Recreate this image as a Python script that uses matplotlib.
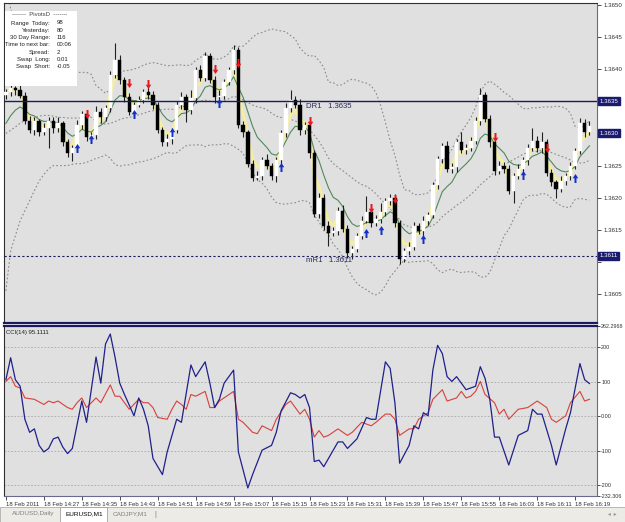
import matplotlib
matplotlib.use("Agg")
import matplotlib.pyplot as plt
import matplotlib.transforms as mtransforms
from matplotlib.path import Path
from matplotlib.patches import Rectangle
import numpy as np
import pandas as pd

# ---- data (prices in pips above base) ----
base = 1.3600
first_open = 36.0
closes = [36.4, 37.0, 36.7, 35.9, 32.0, 30.5, 31.9, 30.2, 30.8, 32.0,
          30.8, 31.6, 28.6, 26.9, 27.7, 31.3, 33.1, 29.4, 29.7, 33.3,
          32.5, 33.9, 39.1, 41.4, 38.3, 35.6, 33.3, 34.5, 35.2, 36.4,
          36.0, 34.5, 30.5, 28.6, 29.2, 30.5, 34.4, 35.6, 33.6, 35.5,
          39.8, 38.7, 42.0, 38.3, 35.6, 35.9, 38.0, 39.8, 43.0, 31.3,
          30.2, 25.3, 23.1, 23.4, 25.8, 25.0, 23.3, 25.8, 30.0, 33.9,
          35.2, 34.4, 30.5, 31.3, 27.0, 17.5, 20.0, 15.6, 14.5, 14.8,
          18.0, 15.2, 11.4, 12.0, 14.1, 16.4, 17.7, 16.1, 16.7, 17.7,
          19.5, 19.9, 16.1, 10.5, 11.7, 12.3, 15.6, 14.8, 16.4, 17.3,
          21.9, 26.1, 28.0, 24.5, 24.8, 28.6, 27.4, 27.7, 28.9, 31.9,
          36.0, 32.3, 28.6, 24.2, 25.0, 24.5, 21.1, 23.4, 24.5, 25.8,
          27.8, 28.9, 27.7, 28.6, 23.9, 22.4, 21.4, 22.6, 23.4, 25.0,
          27.3, 31.6, 30.2, 31.1]
hi_wick = [0.5, 0.6, 0.4, 0.8, 0.5, 0.7, 0.6, 0.4, 0.9, 0.6,
           0.5, 1.0, 0.4, 0.6, 0.5, 0.8, 0.4, 0.6, 0.5, 0.9,
           0.7, 0.5, 0.6, 2.7, 0.8, 0.5, 0.7, 0.4, 0.6, 0.5,
           0.8, 0.6, 0.4, 0.5, 0.7, 0.4, 0.6, 0.9, 0.5, 1.2,
           0.6, 0.8, 0.7, 0.5, 0.6, 0.9, 0.4, 0.5, 0.7, 0.5,
           0.6, 0.4, 0.5, 0.7, 0.5, 1.0, 0.4, 0.6, 0.5, 0.8,
           1.5, 0.6, 0.9, 0.5, 0.6, 0.4, 0.7, 0.5, 0.8, 0.6,
           0.5, 0.9, 0.6, 0.5, 0.4, 0.7, 2.6, 0.5, 0.6, 1.4,
           0.5, 0.7, 0.6, 0.4, 0.5, 0.8, 0.6, 0.5, 0.7, 0.5,
           0.6, 0.4, 0.5, 0.8, 0.6, 0.5, 1.6, 0.6, 0.5, 0.7,
           1.0, 0.5, 0.6, 0.4, 0.7, 0.5, 0.6, 0.5, 0.8, 0.6,
           0.5, 2.0, 0.7, 1.6, 0.5, 0.6, 0.4, 0.7, 0.5, 0.6,
           0.5, 0.8, 0.6, 0.9]
lo_wick = [0.6, 0.5, 0.7, 0.4, 0.6, 0.5, 0.8, 0.6, 0.5, 3.0,
           0.7, 0.5, 0.6, 0.5, 1.2, 0.4, 0.6, 0.5, 0.7, 0.5,
           0.8, 0.6, 0.5, 0.4, 0.6, 0.7, 0.5, 0.6, 0.4, 0.5,
           0.6, 0.7, 0.5, 0.6, 0.5, 0.8, 0.4, 0.6, 1.8, 0.5,
           0.7, 0.5, 0.6, 0.5, 0.8, 0.6, 0.5, 0.4, 0.6, 0.5,
           0.7, 0.6, 0.5, 0.4, 0.7, 0.6, 0.5, 0.8, 0.6, 0.5,
           0.6, 0.5, 0.7, 0.6, 0.8, 0.5, 0.6, 0.7, 2.0, 0.5,
           0.6, 0.5, 0.8, 0.9, 0.5, 0.6, 0.4, 0.7, 0.5, 0.6,
           0.5, 0.6, 0.7, 0.8, 0.5, 0.6, 0.4, 0.5, 0.7, 0.6,
           0.5, 0.6, 0.7, 0.5, 0.6, 0.8, 0.5, 0.6, 0.4, 0.5,
           0.6, 0.5, 0.7, 0.6, 0.5, 0.7, 0.6, 2.0, 0.5, 0.6,
           0.7, 0.5, 0.6, 0.8, 0.5, 0.6, 1.4, 0.5, 0.6, 0.7,
           0.6, 0.5, 0.8, 0.5]

# bollinger values before 20 bars of history are on screen
bb_head_mid = [30.0, 30.5, 31.0, 31.6, 32.0, 32.2, 32.4, 32.7, 32.8, 32.8,
               32.7, 32.5, 32.5, 32.4, 32.4, 32.4, 32.4, 32.5, 32.5]
bb_head_low = [5.5, 11.7, 14.1, 16.4, 18.0, 19.5, 21.1, 22.6, 23.6, 24.5,
               25.0, 25.0, 25.0, 25.0, 25.2, 25.3, 25.3, 25.5, 25.8]
green_seed = 30.2

sell_bars = [17, 26, 30, 44, 49, 64, 77, 82, 103, 114]
sell_pips = [33.1, 37.8, 37.7, 40.0, 41.0, 32.0, 18.4, 19.8, 29.5, 27.8]
buy_bars = [15, 18, 27, 35, 45, 58, 76, 79, 88, 109, 120]
buy_pips = [27.7, 29.1, 33.1, 30.3, 34.7, 24.8, 14.5, 15.0, 13.6, 23.6, 23.0]

cci_bars = [0, 1, 2, 3, 4, 5, 6, 7, 8, 9, 10, 11, 12, 13, 14,
            16, 17, 19, 20, 21, 22, 23, 24, 25, 27, 28, 29, 30, 31,
            33, 34, 36, 37, 39, 40, 42, 43, 44, 45, 46, 48, 49, 51, 52,
            54, 56, 57, 58, 60, 61, 62, 63, 64, 65, 66, 67, 68,
            70, 71, 72, 74, 76, 77, 78, 80, 81, 82, 83,
            85, 86, 87, 88, 89, 90, 91, 92, 93, 94, 95, 96, 97,
            99, 100, 101, 102, 103, 104, 106, 108, 110, 111, 112, 113,
            115, 116, 118, 119, 121, 122, 123]
cci_vals = [106, 170, 106, 87, -9, -47, -37, -85, -104, -94, -66, -61, -90, -109, -94,
            44, -18, 172, 96, 210, 239, 172, 96, 63, 1, 53, 20, -28, -123,
            -170, -104, -9, -18, 149, 115, 158, 96, 25, 49, 96, 134, -104, -209, -170,
            -99, -85, -47, 15, 68, 63, 53, 63, 25, -132, -128, -147, -123,
            -75, -75, -94, -66, -4, -9, -9, 158, 139, 39, -137,
            -85, -28, -37, 10, 1, 134, 206, 182, 115, 101, 115, 96, 77,
            87, 144, 110, 49, -61, -61, -142, -56, -42, 20, 6, 6,
            -85, -142, -37, 10, 153, 106, 95]
sig_bars = [0, 1, 2, 3, 4, 6, 8, 9, 10, 11, 13, 14, 15, 16, 17, 19, 20, 22, 23, 24,
            26, 28, 29, 30, 31, 32, 34, 35, 36, 37, 38, 39, 40, 42, 43, 44, 45, 48, 49, 50,
            52, 53, 54, 56, 57, 59, 60, 62, 63, 64, 65, 66, 67, 68, 70, 72, 73, 75, 77, 78,
            80, 81, 82, 83, 85, 86, 87, 89, 90, 92, 93, 95, 96, 97, 98, 99, 100, 101, 103, 104,
            105, 106, 108, 110, 112, 114, 115, 116, 118, 119, 121, 122, 123]
sig_vals = [101, 115, 87, 82, 53, 49, 34, 44, 39, 44, 25, 20, 39, 53, 25, 53, 39, 91, 58, 58,
            20, 49, 39, 39, 25, -4, -9, 20, 44, 34, 20, 63, 58, 72, 25, 25, 44, 72, -9, -18,
            -47, -51, -28, -42, -9, 34, 44, 6, 20, -9, -61, -42, -61, -56, -37, -56, -47, -18, -28, -18,
            6, 6, -9, -56, -37, -37, -9, 10, 49, 77, 44, 53, 72, 53, 58, 72, 101, 63, 39, 6,
            20, -9, 20, 25, 44, 25, -9, -18, 1, 39, 72, 44, 49]

time_labels = ['18 Feb 2011', '18 Feb 14:27', '18 Feb 14:35', '18 Feb 14:43',
               '18 Feb 14:51', '18 Feb 14:59', '18 Feb 15:07', '18 Feb 15:15',
               '18 Feb 15:23', '18 Feb 15:31', '18 Feb 15:39', '18 Feb 15:47',
               '18 Feb 15:55', '18 Feb 16:03', '18 Feb 16:11', '18 Feb 16:19']
price_ticks = [1.3650, 1.3645, 1.3640, 1.3635, 1.3630, 1.3625, 1.3620,
               1.3615, 1.3610, 1.3605]
cci_ticks = [262.2968, 200, 100, 0, -100, -200, -232.306]
cci_tick_labels = ['262.2968', '200', '100', '0.00', '-100', '-200', '-232.306']
dr1, mr1, last_price = 1.3635, 1.3611, 1.3630

info_labels = ['Range  Today:', 'Yesterday:', '30 Day Range:', 'Time to next bar:',
               'Spread:', 'Swap  Long:', 'Swap  Short:']
info_values = ['98', '80', '116', '00:06', '2', '0.01', '-0.05']
tabs = ['AUDUSD,Daily', 'EURUSD,M1', 'CADJPY,M1']

# ---- derived series ----
close = base + np.array(closes) / 1e4
opens = np.concatenate([[base + first_open / 1e4], close[:-1]])
highs = np.maximum(opens, close) + np.array(hi_wick) / 1e4
lows = np.minimum(opens, close) - np.array(lo_wick) / 1e4
n = len(close)
x = np.arange(n)

cs = pd.Series(close)
mid = cs.rolling(20).mean().to_numpy()
sd = cs.rolling(20).std(ddof=0).to_numpy()
upper = mid + 2 * sd
lower = mid - 2 * sd
h = len(bb_head_mid)
mid[:h] = base + np.array(bb_head_mid) / 1e4
lower[:h] = base + np.array(bb_head_low) / 1e4
upper[:h] = 2 * mid[:h] - lower[:h]

yellow = cs.ewm(span=3, adjust=False).mean().to_numpy()
green = pd.Series(np.concatenate([[base + green_seed / 1e4], close])).ewm(alpha=0.22, adjust=False).mean().to_numpy()[1:]

# ---- figure ----
W, H = 625, 522
fig = plt.figure(figsize=(W / 100, H / 100), dpi=100, facecolor='white')
plt.rcParams['font.family'] = ['Liberation Sans', 'DejaVu Sans']

def fx(px):
    return px / W

def fy(py):
    return 1 - py / H

bg = '#e0e0e0'
navy = '#1c1c5c'
ax = fig.add_axes([fx(4), fy(323), (597 - 4) / W, (323 - 3) / H], facecolor=bg)
ax2 = fig.add_axes([fx(4), fy(496), (597 - 4) / W, (496 - 326) / H], facecolor=bg)

# bands
ax.plot(x, upper, ls=(0, (1.5, 2)), color='#8a8a8a', lw=0.8, zorder=1)
ax.plot(x, mid, ls=(0, (1.5, 2)), color='#8a8a8a', lw=0.8, zorder=1)
ax.plot(x, lower, ls=(0, (1.5, 2)), color='#8a8a8a', lw=0.8, zorder=1)
ax.plot(x, yellow, color='#f4eea0', lw=2.2, zorder=2, solid_capstyle='round')
ax.plot(x, green, color='#4f8a5a', lw=0.8, zorder=2)

# candles
bull = close >= opens
ax.vlines(x, lows, highs, color='#202020', lw=0.8, zorder=3)
body_h = np.maximum(np.abs(close - opens), 0.00002)
body_b = np.minimum(opens, close)
ax.bar(x[bull], body_h[bull], bottom=body_b[bull], width=0.72, color='white',
       edgecolor='white', lw=0.3, zorder=4)
ax.bar(x[~bull], body_h[~bull], bottom=body_b[~bull], width=0.72, color='black',
       edgecolor='black', lw=0.3, zorder=4)

# pivot lines
ax.axhline(dr1, color=navy, lw=1.0, zorder=5)
ax.axhline(mr1, color=navy, lw=0.8, ls=(0, (2, 2)), zorder=5)
ax.text(63.3, dr1 - 0.00003, 'DR1   %.4f' % dr1, fontsize=5.6, color='#2a2a5a',
        va='top', ha='left', zorder=6)
ax.text(63.3, mr1 - 0.00003, 'mR1   %.4f' % mr1, fontsize=5.6, color='#2a2a5a',
        va='top', ha='left', zorder=6)

# arrows
up_verts = [(-0.22, -1), (0.22, -1), (0.22, 0.05), (0.62, 0.05), (0, 1),
            (-0.62, 0.05), (-0.22, 0.05), (-0.22, -1)]
up_arrow = Path(up_verts)
down_arrow = Path([(vx, -vy) for vx, vy in up_verts])
ax.scatter(sell_bars, base + np.array(sell_pips) / 1e4, marker=down_arrow, s=42,
           color='#e8181c', zorder=7, linewidths=0)
ax.scatter(buy_bars, base + np.array(buy_pips) / 1e4, marker=up_arrow, s=42,
           color='#1430c8', zorder=7, linewidths=0)

ax.set_xlim(-0.4, 124.6)
ax.set_ylim(base + 0.5 / 1e4, base + 50.3 / 1e4)
ax.set_xticks([])
ax.yaxis.tick_right()
ax.set_yticks(price_ticks)
# labels covered by the highlighted boxes are left blank
boxed = ['%.4f' % p for p in [dr1, last_price, 1.3610]]
ax.set_yticklabels(['' if '%.4f' % p in boxed else '%.4f' % p for p in price_ticks])
ax.tick_params(axis='y', labelsize=4.4, length=3, width=0.6, pad=1.5, colors='#303030')
for s in ['top', 'left']:
    ax.spines[s].set_color('#303030')
    ax.spines[s].set_linewidth(0.8)
ax.spines['right'].set_color('#6a6a90')
ax.spines['bottom'].set_color(navy)
ax.spines['bottom'].set_linewidth(1.6)

# highlighted price boxes
tr = mtransforms.blended_transform_factory(ax.transAxes, ax.transData)
for p in [dr1, last_price, mr1]:
    ax.text(1.004, p, '%.4f' % p, transform=tr, fontsize=4.4, color='white',
            ha='left', va='center', clip_on=False, zorder=10,
            bbox=dict(boxstyle='square,pad=0.25', fc='#1a1a6e', ec='#1a1a6e'))

# info box
fig.patches.append(Rectangle((fx(5), fy(86)), 72 / W, 75 / H, transform=fig.transFigure,
                             facecolor='white', edgecolor='none', zorder=5))
fig.text(fx(40), fy(15), '-------  PivotsD  -------', fontsize=4.3, color='#404040',
         ha='center', va='center', zorder=6)
for k, (lab, val) in enumerate(zip(info_labels, info_values)):
    yy = 23 + k * 7.3
    fig.text(fx(50), fy(yy), lab, fontsize=4.3, color='#202020', ha='right', va='center', zorder=6)
    fig.text(fx(57), fy(yy), val, fontsize=4.3, color='#202020', ha='left', va='center', zorder=6)

# ---- CCI panel ----
ax2.plot(sig_bars, sig_vals, color='#d8403a', lw=0.8, zorder=3)
ax2.plot(cci_bars, cci_vals, color='#20208c', lw=0.9, zorder=4)
for g in [200, 100, 0, -100, -200]:
    ax2.axhline(g, color='#a8a8a8', lw=0.6, ls=(0, (2, 2)), zorder=1)
ax2.set_xlim(-0.4, 124.6)
ax2.set_ylim(-232.306, 262.2968)
ax2.yaxis.tick_right()
ax2.set_yticks(cci_ticks)
ax2.set_yticklabels(cci_tick_labels)
ax2.tick_params(axis='y', labelsize=3.9, length=2, width=0.6, pad=1.0, colors='#303030')
ax2.set_xticks(np.arange(len(time_labels)) * 8)
ax2.set_xticklabels(time_labels, ha='left')
ax2.tick_params(axis='x', labelsize=4.3, length=3, width=0.6, pad=1.5, colors='#303030')
ax2.spines['top'].set_color(navy)
ax2.spines['top'].set_linewidth(1.6)
ax2.spines['right'].set_color('#6a6a90')
ax2.spines['left'].set_color('#303030')
ax2.spines['bottom'].set_color('#6a6a90')
ax2.text(0.004, 0.975, 'CCI(14) 95.1111', transform=ax2.transAxes, fontsize=4.3,
         color='#202020', ha='left', va='top')

# ---- tab bar ----
fig.patches.append(Rectangle((0, 0), 1, 15 / H, transform=fig.transFigure,
                             facecolor='#ecebe6', edgecolor='#a0a0a0', lw=0.5, zorder=1))
fig.patches.append(Rectangle((fx(60), 0), 47 / W, 15 / H, transform=fig.transFigure,
                             facecolor='white', edgecolor='#909090', lw=0.5, zorder=2))
tab_x = [33, 84, 130]
tab_c = ['#808080', '#000000', '#808080']
for tx, tc, t in zip(tab_x, tab_c, tabs):
    fig.text(fx(tx), fy(514), t, fontsize=4.6, color=tc, ha='center', va='center', zorder=3)
fig.text(fx(155), fy(514), '|', fontsize=5, color='#808080', ha='center', va='center', zorder=3)
fig.text(fx(612), fy(514), '\u25c2  \u25b8', fontsize=4, color='#909090', ha='center',
         va='center', zorder=3)

fig.savefig('out.png', dpi=100, facecolor=fig.get_facecolor())
